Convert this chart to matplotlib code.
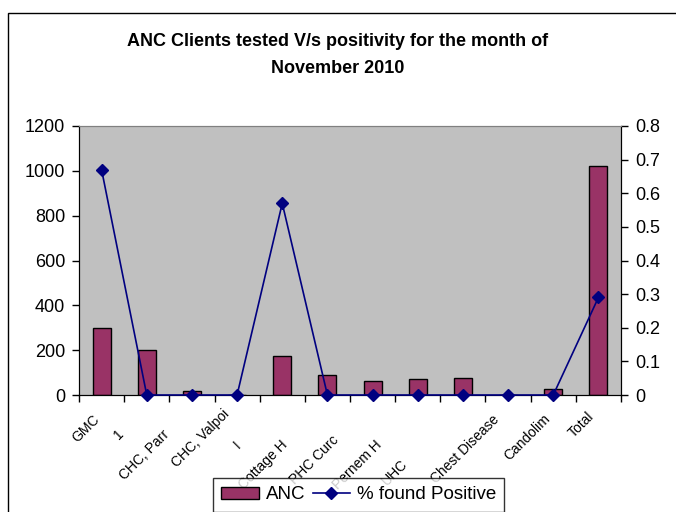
import numpy as np
import matplotlib
matplotlib.use("Agg")
import matplotlib.pyplot as plt
from matplotlib.patches import Rectangle
from matplotlib.lines import Line2D
from matplotlib.transforms import ScaledTranslation

plt.rcParams['font.family'] = ['Liberation Sans', 'DejaVu Sans']

# Data
categories = ["GMC", "1", "CHC, Parr", "CHC, Valpoi", "I", "Cottage H",
              "PHC Curc", "Pernem H", "UHC", "Chest Disease", "Candolim", "Total"]
anc = [300, 200, 20, 0, 175, 90, 63, 70, 77, 0, 28, 1020]
pct_positive = [0.67, 0, 0, 0, 0.57, 0, 0, 0, 0, 0, 0, 0.29]
left_ticks = [0, 200, 400, 600, 800, 1000, 1200]
right_ticks = [0, 0.1, 0.2, 0.3, 0.4, 0.5, 0.6, 0.7, 0.8]

# label nudges in pixels (dx, dy down) - the reference labels are staggered
label_shift = [(-9, 17), (-30, 32), (-30, 32), (-15, 12), (-49, 43), (-47, 43),
               (-41, 38), (-43, 43), (-63, 62), (-16, 17), (-10, 17), (-12, 14)]

fig = plt.figure(figsize=(6.76, 5.12), dpi=100)
ax = fig.add_axes([79/676, 1-395/512, (621-79)/676, (395-126)/512])
ax2 = ax.twinx()

x = np.arange(len(categories))
ax.bar(x, anc, width=0.4, color="#993366", edgecolor="black", linewidth=1, zorder=2)
ax2.plot(x, pct_positive, color="#000080", marker="D", markersize=6.5,
         linewidth=1.2, clip_on=False, zorder=3)

ax.set_facecolor("#C0C0C0")
ax.set_xlim(-0.5, len(categories) - 0.5)
ax.set_ylim(0, 1200)
ax2.set_ylim(0, 0.8)
ax.set_yticks(left_ticks)
ax2.set_yticks(right_ticks)
ax2.set_yticklabels([f"{t:g}" for t in right_ticks])

ax.set_xticks(x)
ax.set_xticklabels(categories, rotation=45, ha="right", va="top",
                   rotation_mode="anchor", fontsize=10)
ax.set_xticks(np.arange(len(categories) + 1) - 0.5, minor=True)
ax.tick_params(axis="x", which="major", length=0, pad=0)
ax.tick_params(axis="x", which="minor", length=5, width=1, direction="out")
ax.tick_params(axis="y", length=5, width=1, direction="out", labelsize=13, pad=5)
ax2.tick_params(axis="y", length=5, width=1, direction="out", labelsize=13, pad=5)

for lab, (dx, dy) in zip(ax.get_xticklabels(), label_shift):
    lab.set_transform(lab.get_transform() + ScaledTranslation(dx/100, -dy/100, fig.dpi_scale_trans))

for a in (ax, ax2):
    a.spines["top"].set_color("#808080")
    a.spines["left"].set_color("black")
    a.spines["right"].set_color("black")
    a.spines["bottom"].set_color("black")

fig.text(0.5, 1-33/512, "ANC Clients tested V/s positivity for the month of\nNovember 2010",
         ha="center", va="top", fontsize=13, fontweight="bold", linespacing=1.75)

handles = [Rectangle((0, 0), 1, 1, facecolor="#993366", edgecolor="black"),
           Line2D([], [], color="#000080", marker="D", markersize=6.5, linewidth=1.2)]
leg = fig.legend(handles, ["ANC", "% found Positive"], ncol=2,
                 loc="upper left", bbox_to_anchor=(213/676, 1-478/512),
                 fontsize=13.5, frameon=True, fancybox=False, edgecolor="black",
                 handlelength=2.0, handleheight=0.6, columnspacing=0.4, handletextpad=0.35,
                 borderpad=0.45, borderaxespad=0)
leg.get_frame().set_linewidth(1)

fig.patches.append(Rectangle((8/676, -0.1), 1.2, 1.1 - 13/512, transform=fig.transFigure,
                             fill=False, edgecolor="black", linewidth=1))

fig.savefig("out.png", dpi=100)
